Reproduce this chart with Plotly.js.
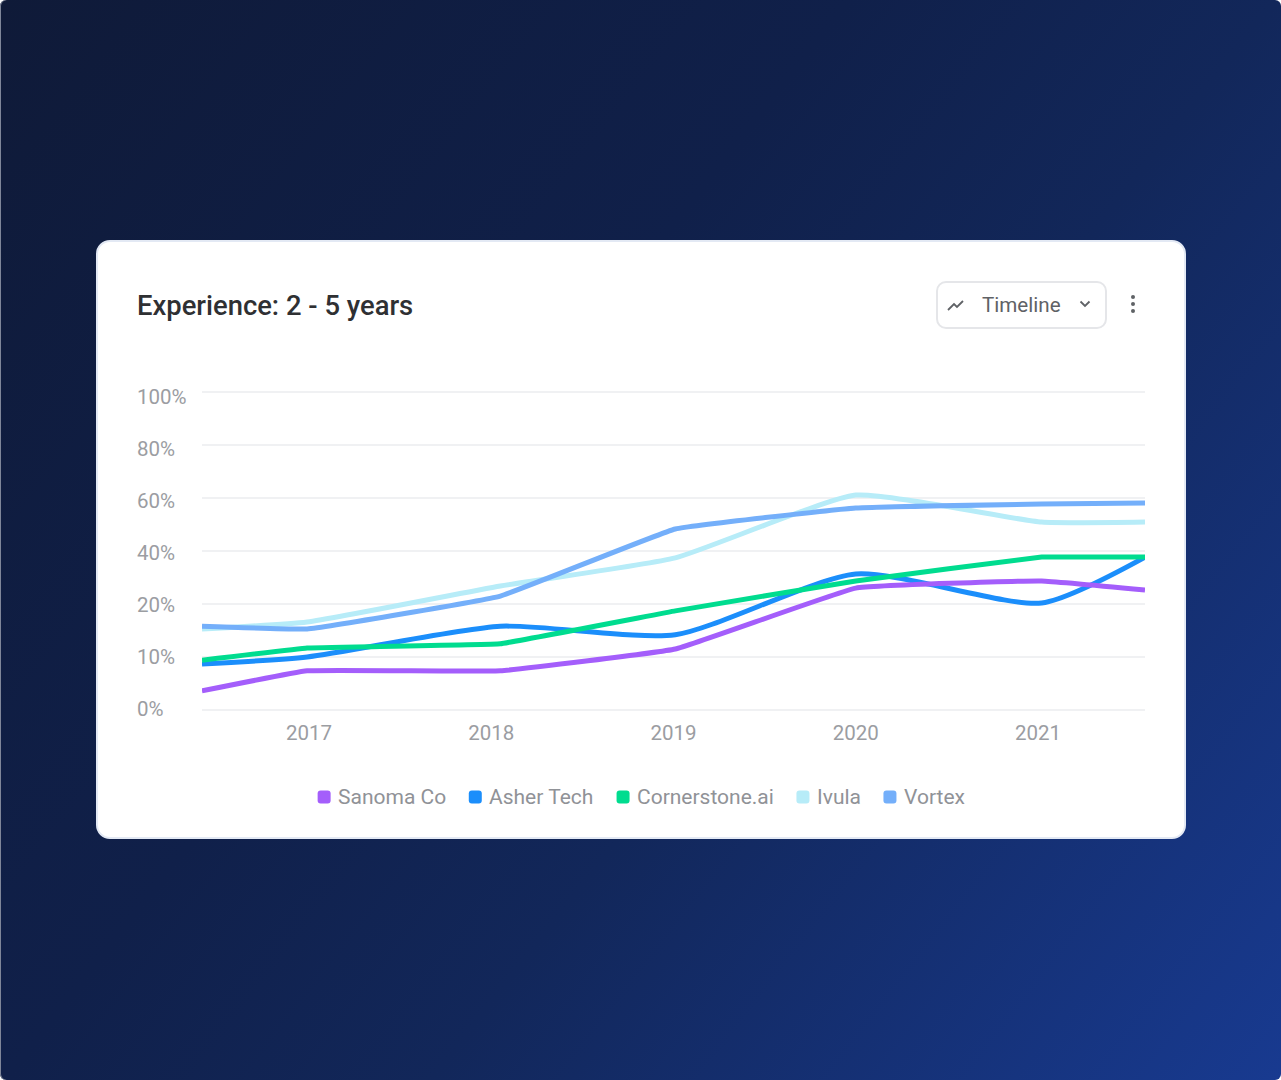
<!DOCTYPE html>
<html><head><meta charset="utf-8">
<script src="https://cdn.plot.ly/plotly-3.0.1.min.js"></script>
<style>
html,body{margin:0;padding:0;width:1281px;height:1080px;overflow:hidden;font-family:Roboto,sans-serif;background:#fff}
#bg{position:absolute;left:0;top:0;width:1281px;height:1080px;border-radius:6px;background:linear-gradient(128deg,#0f1a38 0%,#10204a 40%,#12275a 60%,#183a90 100%);box-shadow:inset 1px 0 0 #7f8699}
#card{position:absolute;left:96px;top:240px;width:1086px;height:595px;background:#fff;border:2px solid #e3e9f4;border-radius:14px}
#chart{position:absolute;left:0;top:0;width:1281px;height:1080px}
#btn{position:absolute;left:936px;top:281px;width:167px;height:44px;border:2px solid #e5e6e9;border-radius:10px;background:#fff;color:#5f6266;font-size:20.6px;line-height:44px}
#btn span{position:absolute;left:44px;top:0}
#btn svg{position:absolute}
#dots{position:absolute;left:1129px;top:295px}
</style></head><body>
<div id="bg"></div>
<div id="card"></div>
<div id="chart"></div>
<div id="btn"><svg style="left:8px;top:14px" width="20" height="16" viewBox="0 0 20 16"><path d="M2 13 L8 7 L11 10 L17 4" fill="none" stroke="#5f6266" stroke-width="1.8"/></svg><span>Timeline</span><svg style="left:140px;top:16px" width="14" height="10" viewBox="0 0 14 10"><path d="M2.5 2.5 L7 7 L11.5 2.5" fill="none" stroke="#5f6266" stroke-width="1.8"/></svg></div>
<svg id="dots" width="8" height="18"><circle cx="4" cy="2" r="2" fill="#5f6266"/><circle cx="4" cy="9" r="2" fill="#5f6266"/><circle cx="4" cy="16" r="2" fill="#5f6266"/></svg>
<script>
const titleText = "Experience: 2 - 5 years";
const yearTicks = [2017, 2018, 2019, 2020, 2021];
const percentStops = [0, 10, 20, 40, 60, 80, 100];
const percentLabels = ["0%", "10%", "20%", "40%", "60%", "80%", "100%"];
const xValues = [2016.413, 2016.99, 2018.05, 2019.01, 2020.0, 2021.02, 2021.587];
const names = ["Sanoma Co", "Asher Tech", "Cornerstone.ai", "Ivula", "Vortex"];
const colors = ["#a45efb", "#1b8efb", "#00dc8f", "#b7ecf8", "#74affa"];
const sanoma = [3.6, 7.4, 7.4, 11.5, 26, 28.7, 25.3];
const asher = [8.7, 10, 15.8, 14.2, 31.3, 20.4, 37.7];
const cornerstone = [9.4, 11.7, 12.5, 18.7, 28.7, 37.7, 37.7];
const ivula = [15.3, 16.6, 26.8, 37.4, 61.1, 50.9, 50.9];
const vortex = [15.8, 15.3, 23, 48.3, 56.2, 57.7, 58.1];
const seriesValues = [sanoma, asher, cornerstone, ivula, vortex];
const smoothness = [0.25, 0.65, 0.15, 0.45, 0.25];
const drawOrder = [3, 4, 1, 2, 0];

const W = 1281, H = 1080;
const fx = p => p / W, fy = p => 1 - p / H;
function toAxis(p) {
  for (let i = 1; i < percentStops.length; i++) {
    if (p <= percentStops[i]) return i - 1 + (p - percentStops[i-1]) / (percentStops[i] - percentStops[i-1]);
  }
  return percentStops.length - 1;
}
const stopIdx = percentStops.map((_, i) => i);
const traces = [];
drawOrder.forEach(i => traces.push({
  x: xValues, y: seriesValues[i].map(toAxis), type: "scatter", mode: "lines",
  line: {color: colors[i], width: 5, shape: "spline", smoothing: smoothness[i]},
  showlegend: false, hoverinfo: "skip", name: names[i]
}));
traces.push({x: [null], y: [null], yaxis: "y2", type: "scatter", mode: "lines", showlegend: false, hoverinfo: "skip"});

// legend row: rounded swatch + real text, laid out from measured text widths
const legendFont = {family: "Roboto, sans-serif", size: 21, color: "#909297"};
const ctx = document.createElement("canvas").getContext("2d");
ctx.font = "21px Roboto";
const swatch = 13, swatchGap = 7, itemGap = 23, legendY = 797;
const widths = names.map(n => ctx.measureText(n).width);
const total = widths.reduce((a, b) => a + b, 0) + names.length * (swatch + swatchGap) + (names.length - 1) * itemGap;
let cursor = 641 - total / 2;
const shapes = [], annotations = [];
names.forEach((n, i) => {
  const a = cursor, b = cursor + swatch, t = legendY - swatch / 2, u = legendY + swatch / 2, r = 3;
  const P = (x, y) => fx(x) + "," + fy(y);
  shapes.push({type: "path", xref: "paper", yref: "paper", fillcolor: colors[i], line: {width: 0},
    path: "M" + P(a + r, t) + " L" + P(b - r, t) + " Q" + P(b, t) + " " + P(b, t + r) + " L" + P(b, u - r) + " Q" + P(b, u) + " " + P(b - r, u) +
          " L" + P(a + r, u) + " Q" + P(a, u) + " " + P(a, u - r) + " L" + P(a, t + r) + " Q" + P(a, t) + " " + P(a + r, t) + " Z"});
  annotations.push({text: n, xref: "paper", yref: "paper", x: fx(b + swatchGap), y: fy(legendY), xanchor: "left", yanchor: "middle",
    showarrow: false, font: legendFont, xshift: -1.5});
  cursor = b + swatchGap + widths[i] + itemGap;
});

const tickFont = {family: "Roboto, sans-serif", size: 20.5, color: "#9b9da2"};
const layout = {
  width: W, height: H, margin: {l: 0, r: 0, t: 0, b: 0},
  paper_bgcolor: "rgba(0,0,0,0)", plot_bgcolor: "rgba(0,0,0,0)",
  font: {family: "Roboto, sans-serif"},
  showlegend: false, shapes, annotations,
  title: {text: titleText, xref: "container", yref: "container", x: fx(137), xanchor: "left", y: fy(305), yanchor: "middle",
    font: {family: "Roboto, sans-serif", size: 27.4, weight: 500, color: "#2f3033"}},
  xaxis: {domain: [fx(202), fx(1145)], range: [2016.413, 2021.587], tickmode: "array", tickvals: yearTicks, ticktext: yearTicks.map(String),
    showgrid: false, zeroline: false, showline: false, ticks: "outside", ticklen: 2, tickcolor: "rgba(0,0,0,0)", tickfont: tickFont, anchor: "y"},
  yaxis: {domain: [fy(712), fy(390)], range: [-2/53, 6 + 2/53], tickmode: "array", tickvals: stopIdx, showticklabels: false,
    gridcolor: "#f0f1f3", gridwidth: 2, zeroline: false, showline: false, ticks: ""},
  yaxis2: {domain: [fy(725), fy(380)], range: [(709-725)/52, (709-380)/52], anchor: "free", position: fx(133),
    tickmode: "array", tickvals: stopIdx, ticktext: percentLabels, ticklabelposition: "inside",
    showgrid: false, zeroline: false, showline: false, ticks: "", tickfont: tickFont}
};
Plotly.newPlot("chart", traces, layout, {displayModeBar: false, staticPlot: true});
</script>
</body></html>
